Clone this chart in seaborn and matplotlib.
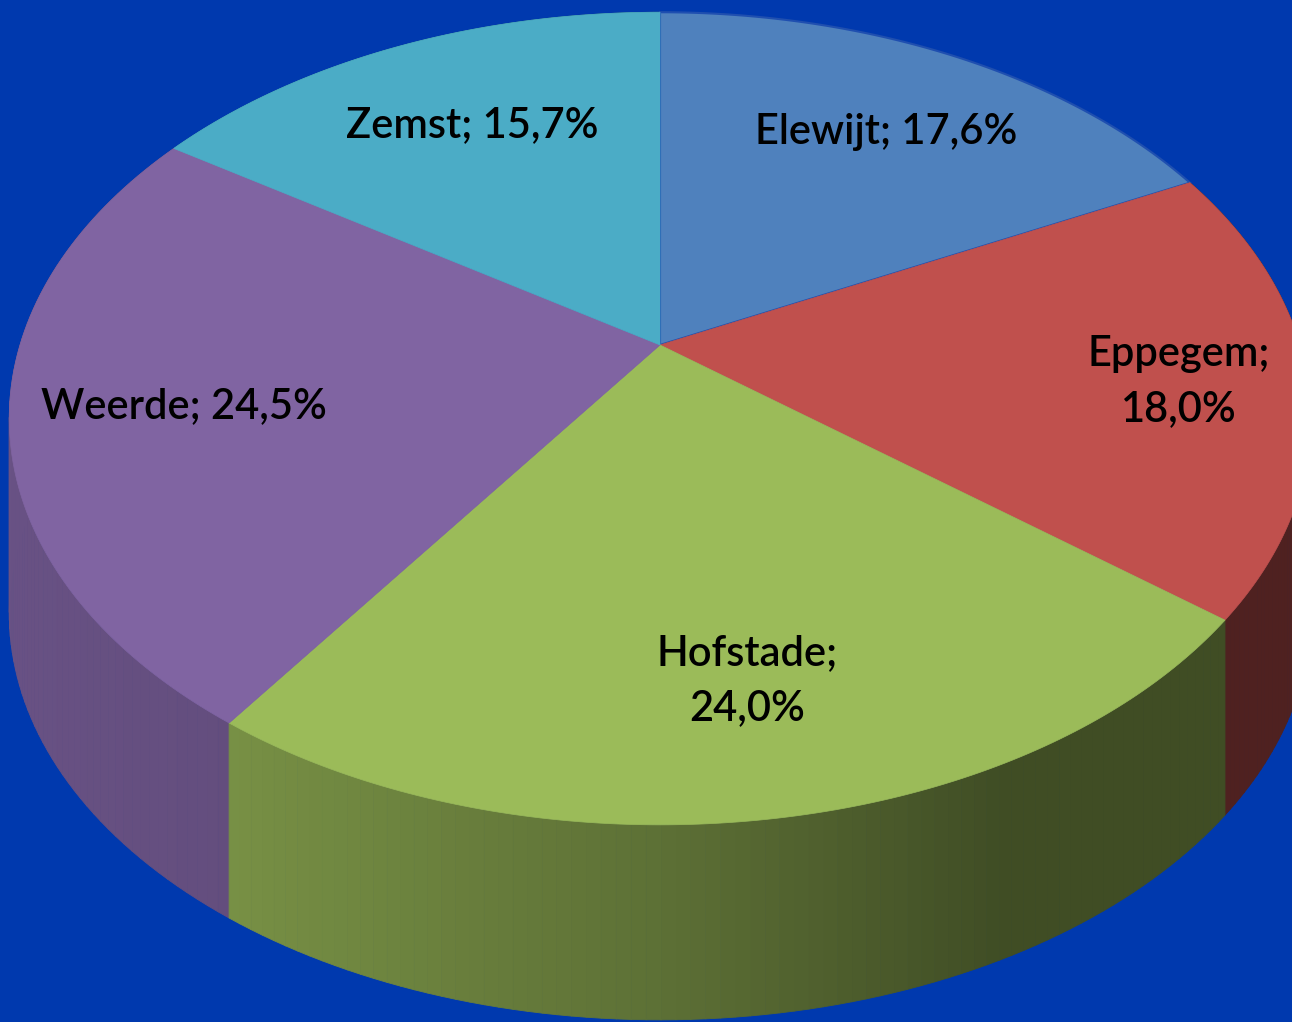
import numpy as np
import matplotlib.pyplot as plt
import seaborn as sns
from matplotlib.patches import Polygon
from matplotlib.collections import PolyCollection

# data
names = ['Elewijt', 'Eppegem', 'Hofstade', 'Weerde', 'Zemst']
values = [17.6, 18.0, 24.0, 24.5, 15.7]
seps = ['; ', ';\n', ';\n', '; ', '; ']
colors = ['#4F81BD', '#C0504D', '#9BBB59', '#8064A2', '#4BACC6']
label_r = [0.72, 0.79, 0.74, 0.75, 0.72]

sns.set_style('white')
plt.rcParams['font.family'] = ['Lato', 'DejaVu Sans']
palette = sns.color_palette(colors)

# perspective disc geometry (pixel space)
cx, cy = 660, 345      # pie centre on the top face
A, B, k = 640, 393, 0.181
depth = 195


def project(theta, r=1.0):
    u = r * np.sin(theta)
    v = r * np.cos(theta)
    d = 1 + k * v
    return cx + A * u / d, cy - B * v / d


fig = plt.figure(figsize=(12.92, 10.22), dpi=100)
ax = fig.add_axes([0, 0, 1, 1])
bg = '#0039AE'
fig.patch.set_facecolor(bg)
ax.set_facecolor(bg)
ax.set_xlim(0, 1292)
ax.set_ylim(1022, 0)
ax.axis('off')

total = sum(values)
edges = np.radians(np.concatenate([[0], np.cumsum(values)]) / total * 360)

# side walls, shaded darker towards the right
quads, qcols, qkeys = [], [], []
for i, col in enumerate(palette):
    t = np.linspace(edges[i], edges[i + 1], 80)
    x, y = project(t)
    for j in range(len(t) - 1):
        um = np.sin((t[j] + t[j + 1]) / 2)
        vm = np.cos((t[j] + t[j + 1]) / 2)
        f = np.interp(um, [-1, -0.6, 0, 0.45, 1], [0.82, 0.78, 0.6, 0.41, 0.41])
        quads.append([(x[j], y[j]), (x[j + 1], y[j + 1]),
                      (x[j + 1], y[j + 1] + depth), (x[j], y[j] + depth)])
        qcols.append(tuple(c * f for c in col))
        qkeys.append(-vm)
order = np.argsort(qkeys)
pc = PolyCollection([quads[o] for o in order], facecolors=[qcols[o] for o in order],
                    edgecolors=[qcols[o] for o in order], linewidths=0.6, zorder=1)
ax.add_collection(pc)

# top faces
for i, col in enumerate(palette):
    t = np.linspace(edges[i], edges[i + 1], 120)
    x, y = project(t)
    pts = np.column_stack([np.r_[cx, x], np.r_[cy, y]])
    ec = '#1F4FB0' if i == 0 else col
    ax.add_patch(Polygon(pts, closed=True, facecolor=col, edgecolor=ec,
                         linewidth=1.5 if i == 0 else 0.5, zorder=2))

# labels
for i, name in enumerate(names):
    mid = (edges[i] + edges[i + 1]) / 2
    lx, ly = project(mid, label_r[i])
    txt = name + seps[i] + f'{values[i]:.1f}%'.replace('.', ',')
    ax.text(lx + 8, ly + 4, txt, ha='center', va='center', fontsize=30,
            fontweight='semibold', color='black', linespacing=1.55, zorder=3)

fig.savefig('out.png', dpi=100, facecolor=bg)
